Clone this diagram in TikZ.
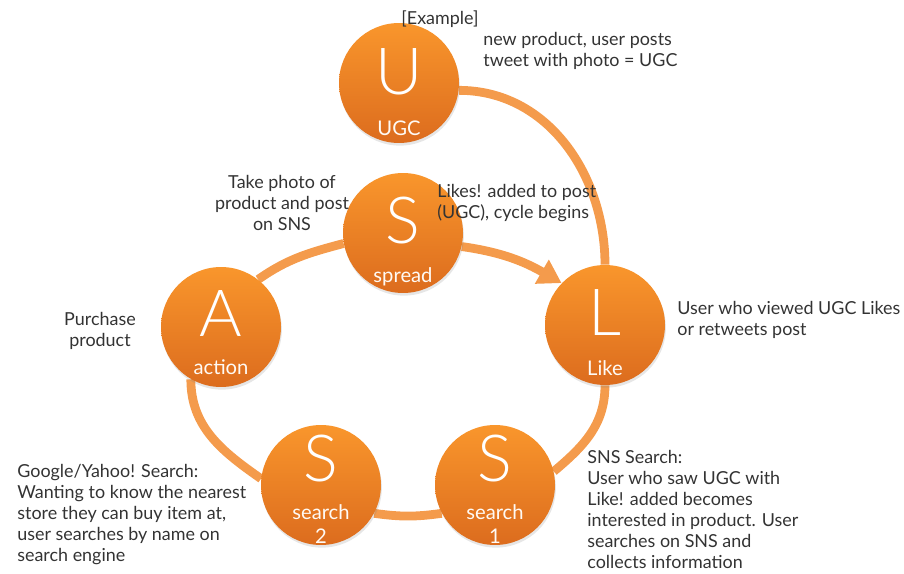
\documentclass[tikz,border=0pt]{standalone}
\usepackage{fontspec}
\setmainfont{Lato}
\newfontfamily\thinfont{Lato}[UprightFont=* Light]
\usetikzlibrary{arrows.meta,shadows,backgrounds}
\definecolor{ringor}{RGB}{244,155,76}
\definecolor{bubtop}{RGB}{249,150,44}
\definecolor{bubbot}{RGB}{220,108,30}
\definecolor{notegray}{RGB}{51,51,51}
\tikzset{
  bub/.style={circle, minimum size=2.4cm, inner sep=0pt, top color=bubtop, bottom color=bubbot,
    drop shadow={opacity=0.2, shadow xshift=0.5pt, shadow yshift=-1.5pt}},
  ring/.style={draw=ringor, line width=5pt},
  letter/.style={text=white, font=\thinfont\fontsize{37}{37}\selectfont},
  lbl/.style={text=white!95!bubtop, font=\fontsize{11.5}{13.5}\selectfont, align=center, inner sep=0pt},
  note/.style={text=notegray, font=\fontsize{10.2}{11.9}\selectfont, inner sep=0pt},
}
\begin{document}
\begin{tikzpicture}[x=0.02cm, y=0.02cm, line join=round, >={Triangle[length=13pt,width=15pt]}]
	\useasboundingbox (0,0) rectangle (904,-574);
	% bubbles
	\foreach \n/\x/\y/\c/\h/\t/\d in {u/399/-83/U/11/UGC/45, spread/403/-233/S/12/spread/44, like/605/-325/L/12/Like/43,
		action/221/-327/A/13/action/40, search1/495/-485/S/26/{search\\1}/39, search2/321/-485/S/26/{search\\2}/39}{
		\node[bub] (\n) at (\x,\y) {};
		\node[letter] (\n-c) at (\x,\y+\h) {\c};
		\node[lbl] (\n-t) at (\x,\y-\d) {\t};
	}
	% ring
	\begin{scope}[on background layer]
		\draw[ring] (action.52) to[out=35,in=195] (spread.190);
		\draw[ring,->] (spread.-13) to[out=-8,in=150] (like.136);
		\draw[ring] (like.-90) to[out=-90,in=40] (search1.13);
		\draw[ring] (search1.208) to[out=188,in=-8] (search2.-28);
		\draw[ring] (search2.174) to[out=145,in=-90] (action.240);
		\draw[ring] (u.-7) to[out=0,in=90] (like.90);
	\end{scope}
	% notes
	\node[note] (ex) at (440,-19) {[Example]};
	\node[note, anchor=north west, align=left] (newp) at (483,-32) {new product, user posts\\tweet with photo = UGC};
	\node[note, anchor=north, align=center] (photo) at (282,-175) {Take photo of\\product and post\\on SNS};
	\node[note, anchor=north west, align=left] (likes) at (437,-184) {Likes! added to post\\(UGC), cycle begins};
	\node[note, anchor=north west, align=left] (viewed) at (677,-301) {User who viewed UGC Likes\\or retweets post};
	\node[note, anchor=north, align=center] (buy) at (100,-312) {Purchase\\product};
	\node[note, anchor=north west, align=left] (google) at (17,-464) {Google/Yahoo! Search:\\Wanting to know the nearest\\store they can buy item at,\\user searches by name on\\search engine};
	\node[note, anchor=north west, align=left] (sns) at (587,-450) {SNS Search:\\User who saw UGC with\\Like! added becomes\\interested in product. User\\searches on SNS and\\collects information};
\end{tikzpicture}
\end{document}
